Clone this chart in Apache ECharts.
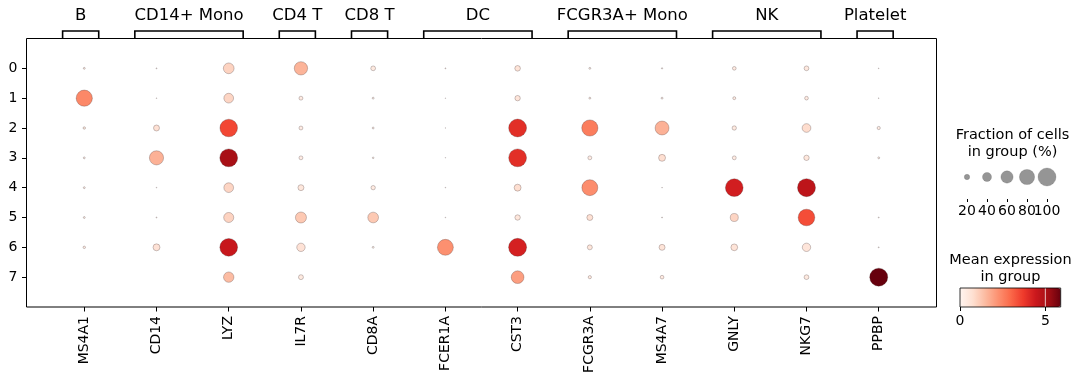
<!DOCTYPE html>
<html><head><meta charset="utf-8">
<script src="https://cdn.jsdelivr.net/npm/echarts@6/dist/echarts.min.js"></script>
<style>html,body{margin:0;padding:0;background:#fff}#c{width:1080px;height:383px}</style>
</head><body><div id="c"></div>
<script>
// ---- data ----
const genes = ['MS4A1','CD14','LYZ','IL7R','CD8A','FCER1A','CST3','FCGR3A','MS4A7','GNLY','NKG7','PPBP'];
const clusters = ['0','1','2','3','4','5','6','7'];
const groupNames = ['B','CD14+ Mono','CD4 T','CD8 T','DC','FCGR3A+ Mono','NK','Platelet'];
const groupStart = [0,1,3,4,5,7,9,11];
const groupEnd   = [0,2,3,4,6,8,10,11];
// fraction of cells expressing (%), one row per gene, columns = clusters 0..7
const fractionPct = [
  [5, 87, 7, 5, 5, 5, 7, 0],        // MS4A1
  [2, 1.3, 23, 73, 1.3, 2, 28, 0],  // CD14
  [50, 44, 97, 99, 44, 46, 98, 48], // LYZ
  [67, 13, 13, 13, 23, 52, 36, 18], // IL7R
  [17, 5, 5, 4, 15, 50, 5, 0],      // CD8A
  [2, 1, 1, 1, 1.3, 1.3, 85, 0],    // FCER1A
  [21, 20, 99, 99, 28, 20, 100, 63],// CST3
  [5, 5, 87, 13, 85, 23, 18, 10],   // FCGR3A
  [3, 5, 71, 28, 1.3, 2, 23, 12],   // MS4A7
  [12, 9, 15, 13, 98, 34, 27, 0],   // GNLY
  [17, 12, 38, 20, 100, 90, 36, 17],// NKG7
  [1.3, 1.3, 10, 5, 0, 2, 2, 100]   // PPBP
];
// mean expression in group
const meanExpr = [
  [0.3, 2.4, 0.4, 0.2, 0.2, 0.2, 0.3, 0],
  [0.1, 0.05, 0.7, 1.65, 0.05, 0.1, 0.65, 0],
  [1.0, 0.95, 3.5, 5.1, 0.95, 1.0, 4.5, 1.45],
  [1.6, 0.35, 0.3, 0.3, 0.5, 1.2, 0.65, 0.4],
  [0.4, 0.1, 0.1, 0.1, 0.35, 1.2, 0.1, 0],
  [0.05, 0.02, 0.02, 0.02, 0.03, 0.03, 2.25, 0],
  [0.6, 0.55, 3.95, 3.95, 0.75, 0.5, 4.25, 2.0],
  [0.15, 0.15, 2.6, 0.3, 2.3, 0.7, 0.5, 0.35],
  [0.05, 0.1, 1.65, 0.75, 0.03, 0.05, 0.6, 0.35],
  [0.35, 0.3, 0.4, 0.35, 4.3, 0.95, 0.6, 0],
  [0.45, 0.35, 0.8, 0.5, 4.7, 3.4, 0.55, 0.4],
  [0.03, 0.03, 0.3, 0.15, 0, 0.05, 0.05, 5.9]
];
const legendFractions = [20, 40, 60, 80, 100];
const colorbarTicks = [0, 5];

// ---- styling / helpers ----
const REDS = ['#fff5f0','#fee0d2','#fcbba1','#fc9272','#fb6a4a','#ef3b2c','#cb181d','#a50f15','#67000d'];
const FONT = '"DejaVu Sans"';
const DMAX = 18;
const dotSize = f => DMAX * Math.pow(f / 100, 0.75);
const vmax = Math.max(...meanExpr.flat());

const dots = [];
genes.forEach((g, gi) => clusters.forEach((c, ci) => {
  const f = fractionPct[gi][ci];
  if (f > 0) dots.push([gi, ci, f, meanExpr[gi][ci]]);
}));
const brackets = groupNames.map((n, i) => [groupStart[i], groupEnd[i], i]);

const MAIN = {left: 26.5, top: 38.5, width: 910, height: 268.5};
const CB = {left: 960, top: 288, width: 100.7, height: 19};

const chart = echarts.init(document.getElementById('c'), null, {renderer: 'canvas'});
chart.setOption({
  animation: false,
  backgroundColor: '#fff',
  textStyle: {fontFamily: 'DejaVu Sans'},
  grid: [
    Object.assign({show: true, borderColor: '#000', borderWidth: 1, backgroundColor: 'transparent'}, MAIN),
    {left: 957, top: 155, width: 100, height: 44},
    Object.assign({}, CB)
  ],
  xAxis: [
    {gridIndex: 0, type: 'value', min: -0.8, max: 11.8, position: 'bottom',
     axisLine: {show: false, onZero: false}, splitLine: {show: false},
     axisTick: {show: true, customValues: genes.map((_, i) => i), length: 4.5, lineStyle: {color: '#000', width: 1}},
     axisLabel: {show: true, customValues: genes.map((_, i) => i), formatter: v => genes[Math.round(v)],
                 rotate: 90, fontSize: 14, color: '#000', margin: 9, fontFamily: 'DejaVu Sans'}},
    {gridIndex: 1, type: 'category', data: legendFractions.map(String), boundaryGap: true, position: 'bottom',
     axisLine: {show: false, onZero: false}, splitLine: {show: false},
     axisTick: {show: true, alignWithLabel: true, length: 3, lineStyle: {color: '#000'}},
     axisLabel: {fontSize: 14, color: '#000', margin: 5, interval: 0, fontFamily: 'DejaVu Sans'}},
    {gridIndex: 2, type: 'value', min: 0, max: vmax, position: 'bottom',
     axisLine: {show: false, onZero: false}, splitLine: {show: false},
     axisTick: {show: true, customValues: colorbarTicks, length: 4, lineStyle: {color: '#000'}},
     axisLabel: {show: true, customValues: colorbarTicks, fontSize: 14, color: '#000', margin: 7, fontFamily: 'DejaVu Sans'}}
  ],
  yAxis: [
    {gridIndex: 0, type: 'value', inverse: true, min: -1, max: 8, position: 'left',
     axisLine: {show: false, onZero: false}, splitLine: {show: false},
     axisTick: {show: true, customValues: clusters.map((_, i) => i), length: 4.5, lineStyle: {color: '#000', width: 1}},
     axisLabel: {show: true, customValues: clusters.map((_, i) => i), formatter: v => clusters[Math.round(v)],
                 fontSize: 14, color: '#000', margin: 9, fontFamily: 'DejaVu Sans'}},
    {gridIndex: 1, type: 'value', min: -1, max: 1, show: false},
    {gridIndex: 2, type: 'value', min: 0, max: 1, show: false}
  ],
  visualMap: [{
    type: 'continuous', seriesIndex: 0, dimension: 3, min: 0, max: vmax,
    orient: 'horizontal', left: CB.left, top: CB.top, itemWidth: CB.height, itemHeight: CB.width,
    padding: 0, calculable: false, realtime: false, hoverLink: false,
    inRange: {color: REDS}, text: null, showLabel: false
  }],
  series: [
    {type: 'scatter', xAxisIndex: 0, yAxisIndex: 0, data: dots,
     symbolSize: v => dotSize(v[2]),
     itemStyle: {borderColor: 'rgba(60,40,40,0.45)', borderWidth: 0.6, opacity: 1},
     emphasis: {disabled: true}, silent: true, z: 3},
    {type: 'scatter', xAxisIndex: 1, yAxisIndex: 1,
     data: legendFractions.map((f, i) => [i, 0, f]),
     symbolSize: v => dotSize(v[2]),
     itemStyle: {color: '#7a7a7a', borderColor: 'rgba(90,90,90,0.6)', borderWidth: 0.5},
     emphasis: {disabled: true}, silent: true},
    {type: 'custom', xAxisIndex: 0, yAxisIndex: 0, clip: false, silent: true, data: brackets,
     renderItem: (params, api) => {
       const x1 = api.coord([api.value(0) - 0.3, -1])[0];
       const x2 = api.coord([api.value(1) + 0.2, -1])[0];
       const yTop = params.coordSys.y;
       const yb = yTop - 7.5;
       return {type: 'group', children: [
         {type: 'polyline', shape: {points: [[x1, yTop], [x1, yb], [x2, yb], [x2, yTop]]},
          style: {stroke: '#000', lineWidth: 1.6, fill: null}},
         {type: 'text', style: {text: groupNames[api.value(2)], x: (x1 + x2) / 2, y: yTop - 23,
          textAlign: 'center', textVerticalAlign: 'middle', font: '16.5px ' + FONT, fill: '#000'}}
       ]};
     }}
  ],
  graphic: [
    {type: 'text', x: 1012.5, y: 143.5, z: 100,
     style: {text: 'Fraction of cells\nin group (%)', textAlign: 'center', textVerticalAlign: 'middle',
             font: '14.5px ' + FONT, lineHeight: 17, fill: '#000'}},
    {type: 'text', x: 1010.5, y: 268.5, z: 100,
     style: {text: 'Mean expression\nin group', textAlign: 'center', textVerticalAlign: 'middle',
             font: '14.5px ' + FONT, lineHeight: 17, fill: '#000'}},
    {type: 'line', z: 100, silent: true,
     shape: {x1: CB.left + CB.width * 5 / vmax, y1: CB.top, x2: CB.left + CB.width * 5 / vmax, y2: CB.top + CB.height},
     style: {stroke: 'rgba(255,255,255,0.75)', lineWidth: 1}},
    {type: 'rect', z: 101, silent: true,
     shape: {x: CB.left, y: CB.top, width: CB.width, height: CB.height},
     style: {fill: null, stroke: '#000', lineWidth: 0.8}}
  ]
});
</script></body></html>
